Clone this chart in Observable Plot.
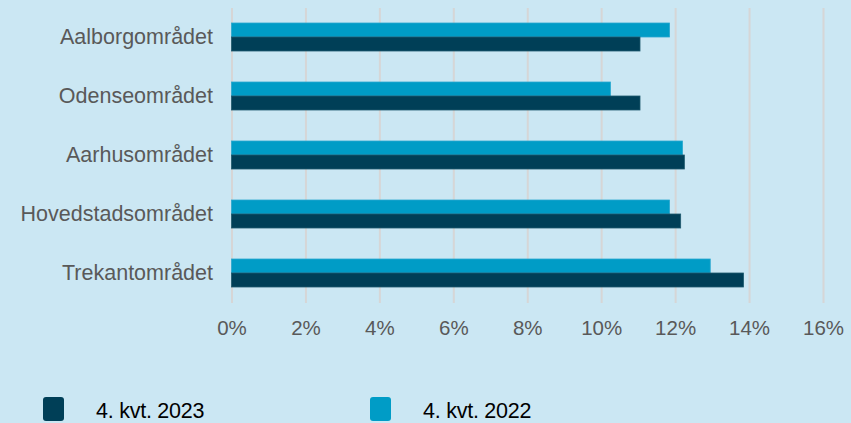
<!DOCTYPE html>
<html>
<head>
<meta charset="utf-8">
<script src="https://cdn.jsdelivr.net/npm/d3@7"></script>
<script src="https://cdn.jsdelivr.net/npm/@observablehq/plot@0.6"></script>
<style>
  html, body { margin: 0; padding: 0; background: #cbe7f3; }
  body { width: 851px; height: 423px; overflow: hidden; font-family: "Liberation Sans", Arial, sans-serif; }
  #legend { position: relative; height: 40px; margin-top: 37px; }
  .item { position: absolute; top: 0; display: flex; align-items: flex-start; }
  .sw { width: 21px; height: 24px; border-radius: 3px; }
  .lab { font-size: 21.5px; color: #000; line-height: 24px; margin-top: 2px; letter-spacing: -0.25px; }
</style>
</head>
<body>
<div id="chart"></div>
<div id="legend"></div>
<script>
const categories = ["Aalborgområdet", "Odenseområdet", "Aarhusområdet", "Hovedstadsområdet", "Trekantområdet"];
const series = ["4. kvt. 2023", "4. kvt. 2022"];
const values2023 = [11.05, 11.05, 12.25, 12.15, 13.85];
const values2022 = [11.85, 10.25, 12.2, 11.85, 12.95];
const xTicks = [0, 2, 4, 6, 8, 10, 12, 14, 16];
const colors = ["#003f57", "#009cc6"];

const d2023 = categories.map((c, i) => ({cat: c, v: values2023[i]}));
const d2022 = categories.map((c, i) => ({cat: c, v: values2022[i]}));

const chart = Plot.plot({
  width: 851,
  height: 360,
  marginLeft: 231.5,
  marginRight: 28,
  marginTop: 8,
  marginBottom: 57,
  style: {background: "transparent", fontFamily: "'Liberation Sans', Arial, sans-serif"},
  x: {domain: [0, 16], ticks: xTicks, tickFormat: d => d + "%", label: null},
  y: {type: "band", domain: categories, paddingInner: 0.525, paddingOuter: 0.2625, label: null},
  marks: [
    Plot.gridX(xTicks, {stroke: "#d6d6d6", strokeWidth: 2, strokeOpacity: 1}),
    Plot.barX(d2022, {x: "v", y: "cat", fill: colors[1], stroke: "#2aa8cf", strokeWidth: 0.8, insetBottom: 14}),
    Plot.barX(d2023, {x: "v", y: "cat", fill: colors[0], stroke: "#1f5a6e", strokeWidth: 0.8, insetTop: 14}),
    Plot.axisX(xTicks, {tickSize: 0, tickPadding: 17, fontSize: 20.5, fill: "#595959", tickFormat: d => d + "%", label: null}),
    Plot.axisY({tickSize: 0, tickPadding: 19, fontSize: 21.5, fill: "#595959", label: null})
  ]
});
document.getElementById("chart").appendChild(chart);

const legend = document.getElementById("legend");
const lx = [{sw: 43, lab: 96}, {sw: 370, lab: 423}];
series.forEach((s, i) => {
  const sw = document.createElement("div");
  sw.className = "item";
  sw.style.left = lx[i].sw + "px";
  sw.innerHTML = `<div class="sw" style="background:${colors[i]}"></div>`;
  legend.appendChild(sw);
  const lb = document.createElement("div");
  lb.className = "item";
  lb.style.left = lx[i].lab + "px";
  lb.innerHTML = `<div class="lab">${s}</div>`;
  legend.appendChild(lb);
});
</script>
</body>
</html>
